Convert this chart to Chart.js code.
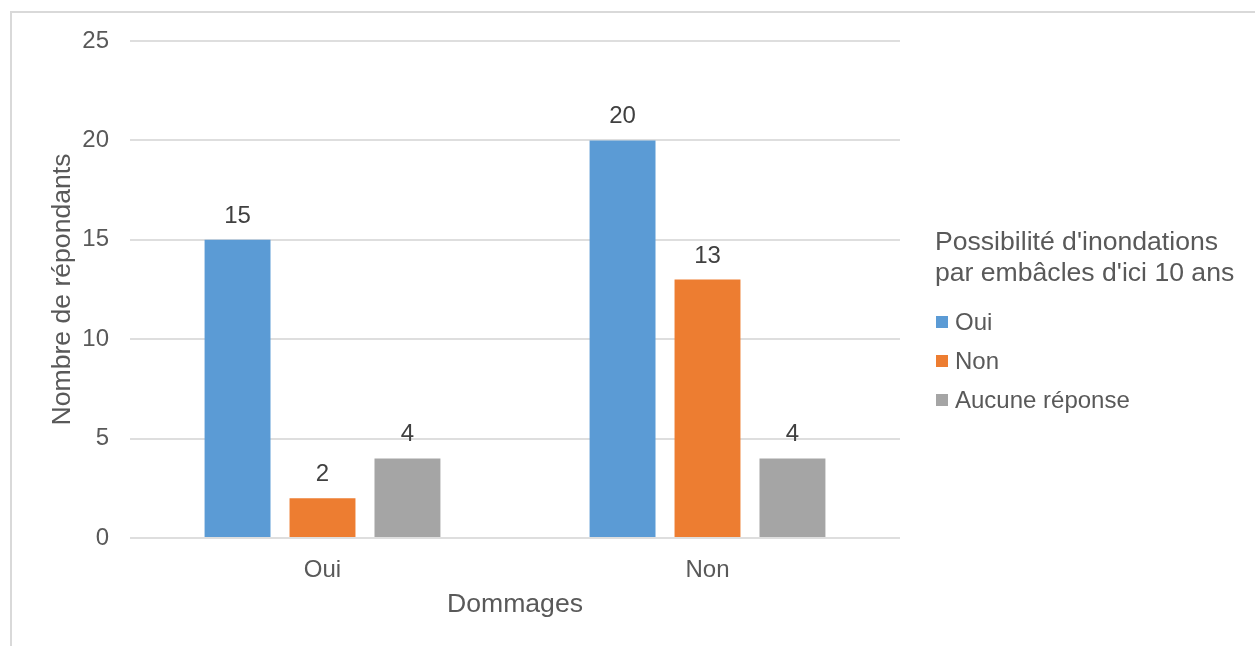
<!DOCTYPE html>
<html>
<head>
<meta charset="utf-8">
<script src="https://cdn.jsdelivr.net/npm/chart.js@4"></script>
<style>
  html, body { margin: 0; padding: 0; background: #fff; }
  #frame {
    position: absolute; left: 10px; top: 11px; width: 1300px; height: 700px;
    border-left: 2px solid #d9d9d9; border-top: 2px solid #d9d9d9;
  }
  #wrap { position: absolute; left: 0; top: 0; width: 1255px; height: 646px; }
</style>
</head>
<body>
<div id="frame"></div>
<div id="wrap"><canvas id="chart"></canvas></div>
<script>
const categories = ['Oui', 'Non'];
const seriesNames = ['Oui', 'Non', 'Aucune réponse'];
const ouiValues = [15, 20];
const nonValues = [2, 13];
const aucuneValues = [4, 4];
const seriesColors = ['#5b9bd5', '#ed7d31', '#a5a5a5'];
const legendTitle = ["Possibilité d'inondations", "par embâcles d'ici 10 ans"];

const fontFamily = '"Liberation Sans", Arial, sans-serif';

// value labels above each bar
const barLabels = {
  id: 'barLabels',
  afterDatasetsDraw(chart) {
    const ctx = chart.ctx;
    ctx.save();
    ctx.font = '24px ' + fontFamily;
    ctx.fillStyle = '#404040';
    ctx.textAlign = 'center';
    ctx.textBaseline = 'alphabetic';
    chart.data.datasets.forEach((ds, i) => {
      chart.getDatasetMeta(i).data.forEach((bar, j) => {
        ctx.fillText(ds.data[j], bar.x, bar.y - 17);
      });
    });
    ctx.restore();
  }
};

// legend with a two-line title on the right
const sideLegend = {
  id: 'sideLegend',
  afterDraw(chart) {
    const ctx = chart.ctx;
    const x = 935;
    ctx.save();
    ctx.fillStyle = '#595959';
    ctx.textAlign = 'left';
    ctx.textBaseline = 'alphabetic';
    ctx.font = '26.6px ' + fontFamily;
    legendTitle.forEach((line, i) => ctx.fillText(line, x, 250 + i * 31));
    ctx.font = '24px ' + fontFamily;
    chart.data.datasets.forEach((ds, i) => {
      const base = 330 + i * 39;
      ctx.fillStyle = ds.backgroundColor;
      ctx.fillRect(x + 1, base - 14, 12, 12);
      ctx.fillStyle = '#595959';
      ctx.fillText(ds.label, x + 20, base);
    });
    ctx.restore();
  }
};

new Chart(document.getElementById('chart'), {
  type: 'bar',
  data: {
    labels: categories,
    datasets: [
      { label: seriesNames[0], data: ouiValues, backgroundColor: seriesColors[0] },
      { label: seriesNames[1], data: nonValues, backgroundColor: seriesColors[1] },
      { label: seriesNames[2], data: aucuneValues, backgroundColor: seriesColors[2] }
    ]
  },
  options: {
    responsive: true,
    maintainAspectRatio: false,
    animation: false,
    categoryPercentage: 0.662,
    barPercentage: 0.776,
    layout: { padding: { left: 47, right: 355, top: 41, bottom: 25 } },
    plugins: { legend: { display: false }, tooltip: { enabled: false } },
    scales: {
      x: {
        grid: { display: false },
        border: { display: false },
        ticks: { color: '#595959', font: { family: fontFamily, size: 24 }, padding: 10 },
        title: { display: true, text: 'Dommages', color: '#595959', font: { family: fontFamily, size: 26.6 }, padding: 0 },
        afterFit(scale) { scale.height = 83; }
      },
      y: {
        min: 0,
        max: 25,
        ticks: { stepSize: 5, color: '#595959', font: { family: fontFamily, size: 24 }, padding: 21 },
        grid: { color: '#dedede', lineWidth: 2, drawTicks: false },
        border: { display: false },
        title: { display: true, text: 'Nombre de répondants', color: '#595959', font: { family: fontFamily, size: 26.6 }, padding: 0 },
        afterFit(scale) { scale.width = 83; }
      }
    }
  },
  plugins: [barLabels, sideLegend]
});
</script>
</body>
</html>
